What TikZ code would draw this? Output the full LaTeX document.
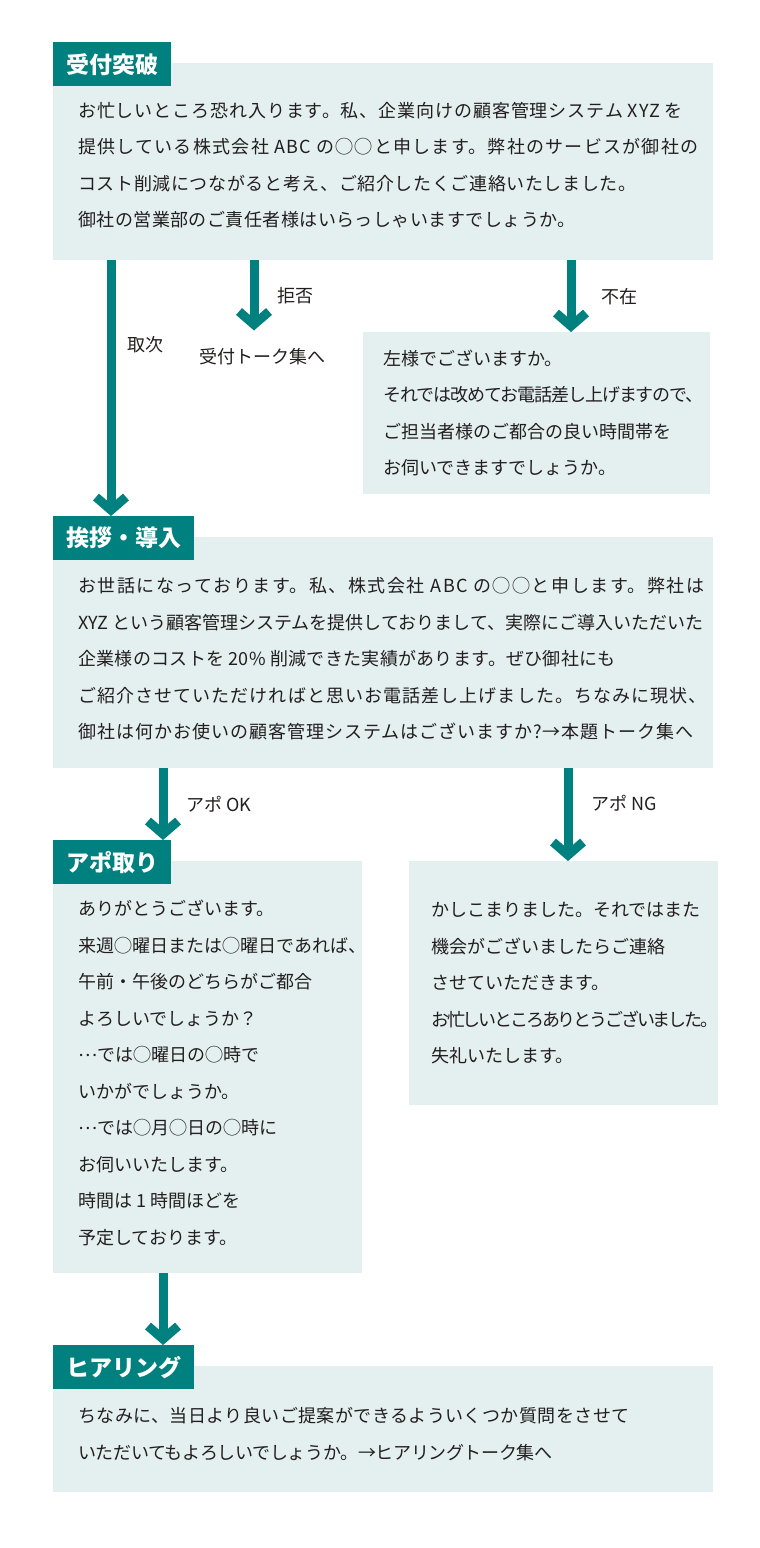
\documentclass[tikz,border=0pt]{standalone}
\usepackage{fontspec}
\setmainfont{Noto Sans CJK JP}
\usetikzlibrary{arrows.meta, positioning}
\definecolor{cTeal}{RGB}{0, 128, 126}
\definecolor{cPale}{RGB}{228, 240, 240}
\definecolor{tDark}{RGB}{35, 30, 30}
\newcommand{\squeeze}[2]{{\addfontfeature{LetterSpace=#1}#2}}
\newcommand{\midellip}{\raisebox{0.33em}{…}}

\begin{document}
\begin{tikzpicture}[
    x=1pt, y=-1pt,
    font=\fontsize{18pt}{36.5pt}\selectfont,
    text=tDark,
    panel/.style={
        fill=cPale,
        anchor=north west,
        inner sep=0pt
    },
    tab/.style={
        fill=cTeal,
        text=white,
        font=\fontsize{23pt}{23pt}\selectfont\bfseries,
        anchor=north west,
        minimum height=44pt,
        inner xsep=13pt,
        inner ysep=0pt
    },
    body/.style={anchor=west, align=left, inner sep=0pt},
    lbl/.style={inner sep=0pt},
    flow/.style={-{Straight Barb[sharp, length=13pt, width=30pt]}, line width=9pt, draw=cTeal}
]
\useasboundingbox (0,0) rectangle (760,1548);

% Reception
\node[panel, minimum width=660pt, minimum height=197pt] (b1) at (53,63) {};
\node[tab] (h1) at (53,42) {受付突破};
\node[body] (t1) at ([xshift=25pt, yshift=-3.5pt]b1.west) {
    \squeeze{5}{お忙しいところ恐れ入ります。私、企業向けの顧客管理システム XYZ を}\\
    \squeeze{7}{提供している株式会社 ABC の◯◯と申します。弊社のサービスが御社の}\\
    \squeeze{3.5}{コスト削減につながると考え、ご紹介したくご連絡いたしました。}\\
    \squeeze{2.5}{御社の営業部のご責任者様はいらっしゃいますでしょうか。}
};

\node[lbl] (r1) at (262,357) {受付トーク集へ};

\node[panel, minimum width=347pt, minimum height=162pt] (b3) at (363,332) {};
\node[body] (t3) at ([xshift=20pt]b3.west) {
    左様でございますか。\\
    \squeeze{-6}{それでは改めてお電話差し上げますので、}\\
    ご担当者様のご都合の良い時間帯を\\
    お伺いできますでしょうか。
};

% Greeting
\node[panel, minimum width=660pt, minimum height=231pt] (b2) at (53,537) {};
\node[tab] (h2) at (53,516) {挨拶・導入};
\node[body] (t2) at ([xshift=25pt, yshift=-6pt]b2.west) {
    \squeeze{8.5}{お世話になっております。私、株式会社 ABC の◯◯と申します。弊社は}\\
    XYZ という顧客管理システムを提供しておりまして、実際にご導入いただいた\\
    \squeeze{1.7}{企業様のコストを 20\% 削減できた実績があります。ぜひ御社にも}\\
    \squeeze{6}{ご紹介させていただければと思いお電話差し上げました。ちなみに現状、}\\
    \squeeze{5.5}{御社は何かお使いの顧客管理システムはございますか?→本題トーク集へ}
};

\coordinate (c1) at ([xshift=58pt]h2.north west);
\coordinate (c2) at ([xshift=208pt]b3.north west);
\draw[flow] (b1.south -| c1) -- node[lbl, pos=0.33, right=12pt] (l1) {取次} (c1);
\draw[flow] (b1.south -| r1.north) ++(-8,0) -- node[lbl, right=19pt] (l2) {拒否} ([xshift=-8pt, yshift=18pt]r1.north);
\draw[flow] (b1.south -| c2) -- node[lbl, right=26pt] (l3) {不在} (c2);

% Appointment
\node[panel, minimum width=309pt, minimum height=412pt] (b4) at (53,861) {};
\node[tab] (h3) at (53,840) {アポ取り};
\node[body] (t4) at ([xshift=25pt, yshift=-6pt]b4.west) {
    ありがとうございます。\\
    来週◯曜日または◯曜日であれば、\\
    午前・午後のどちらがご都合\\
    よろしいでしょうか？\\
    \midellip では◯曜日の◯時で\\
    いかがでしょうか。\\
    \midellip では◯月◯日の◯時に\\
    お伺いいたします。\\
    時間は 1 時間ほどを\\
    予定しております。
};

\node[panel, minimum width=309pt, minimum height=244pt] (b5) at (409,861) {};
\node[body] (t5) at ([xshift=22pt]b5.west) {
    かしこまりました。それではまた\\
    機会がございましたらご連絡\\
    させていただきます。\\
    \squeeze{-12}{お忙しいところありとうございました。}\\
    失礼いたします。
};

\coordinate (c3) at ([xshift=110pt]h3.north west);
\coordinate (c4) at ([xshift=159pt]b5.north west);
\draw[flow] (b2.south -| c3) -- node[lbl, right=19pt] (l4) {アポ OK} (c3);
\draw[flow] (b2.south -| c4) -- node[lbl, pos=0.38, right=19pt] (l5) {アポ NG} (c4);

% Hearing
\node[panel, minimum width=660pt, minimum height=126pt] (b6) at (53,1366) {};
\node[tab] (h4) at (53,1345) {ヒアリング};
\node[body] (t6) at ([xshift=25pt, yshift=-5pt]b6.west) {
    \squeeze{2.4}{ちなみに、当日より良いご提案ができるよういくつか質問をさせて}\\
    \squeeze{-2}{いただいてもよろしいでしょうか。→ヒアリングトーク集へ}
};

\coordinate (c5) at ([xshift=110pt]h4.north west);
\draw[flow] (b4.south -| c5) -- (c5);

\end{tikzpicture}
\end{document}
